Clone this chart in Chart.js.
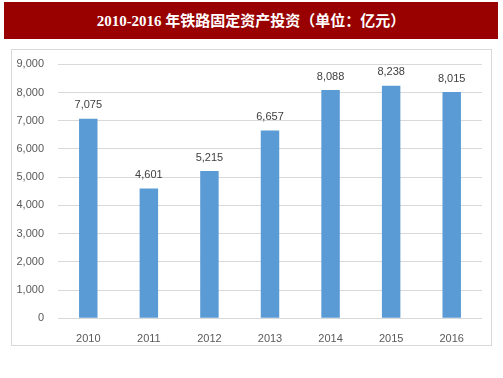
<!DOCTYPE html>
<html>
<head>
<meta charset="utf-8">
<script src="https://cdn.jsdelivr.net/npm/chart.js@4"></script>
<style>
  html, body { margin: 0; padding: 0; background: #ffffff; }
  body { width: 503px; height: 378px; position: relative; overflow: hidden; }
  #title {
    position: absolute; left: 4px; top: 2px; width: 494px; height: 37px;
    background: #990000; color: #ffffff;
    font-family: "Liberation Serif", "Noto Sans CJK SC", serif; font-weight: bold; font-size: 15px;
    line-height: 39px; text-align: center; white-space: nowrap;
  }
  #box {
    position: absolute; left: 11px; top: 49px; width: 481px; height: 297px;
    border: 1px solid #d9d9d9; box-sizing: border-box;
  }
  #c { display: block; }
</style>
</head>
<body>
<div id="title">2010-2016 年铁路固定资产投资（单位：亿元）</div>
<div id="box"><canvas id="c" width="479" height="295"></canvas></div>
<script>
const categories = ['2010', '2011', '2012', '2013', '2014', '2015', '2016'];
const investment = [7075, 4601, 5215, 6657, 8088, 8238, 8015];
const yMin = 0;
const yMax = 9000;
const yStep = 1000;

const fmt = v => v.toLocaleString('en-US');

const valueLabels = {
  id: 'valueLabels',
  afterDatasetsDraw(chart) {
    const ctx = chart.ctx;
    ctx.save();
    ctx.font = '11px "Liberation Sans", Arial, sans-serif';
    ctx.fillStyle = '#404040';
    ctx.textAlign = 'center';
    ctx.textBaseline = 'middle';
    const meta = chart.getDatasetMeta(0);
    meta.data.forEach((bar, i) => {
      ctx.fillText(fmt(chart.data.datasets[0].data[i]), bar.x, bar.y - 13.5);
    });
    ctx.restore();
  }
};

new Chart(document.getElementById('c'), {
  type: 'bar',
  data: {
    labels: categories,
    datasets: [{
      data: investment,
      backgroundColor: '#5B9BD5',
      borderWidth: 0,
      categoryPercentage: 1,
      barPercentage: 0.305
    }]
  },
  options: {
    responsive: false,
    animation: false,
    devicePixelRatio: 1,
    layout: { padding: { top: 14.3, right: 9, left: 0, bottom: 0 } },
    plugins: { legend: { display: false }, tooltip: { enabled: false }, title: { display: false } },
    scales: {
      x: {
        grid: { display: false, drawTicks: false },
        border: { display: false },
        ticks: { color: '#595959', font: { family: '"Liberation Sans", Arial, sans-serif', size: 11 }, padding: 14 },
        afterFit(s) { s.height = 26.7; s.paddingLeft = 0; s.paddingRight = 0; }
      },
      y: {
        min: yMin, max: yMax,
        grid: { color: '#d9d9d9', lineWidth: 1, drawTicks: false },
        border: { display: false },
        ticks: {
          stepSize: yStep,
          color: '#595959',
          font: { family: '"Liberation Sans", Arial, sans-serif', size: 11 },
          padding: 14,
          callback: v => fmt(v)
        },
        afterFit(s) { s.width = 46; s.paddingTop = 0; s.paddingBottom = 0; }
      }
    }
  },
  plugins: [valueLabels]
});
</script>
</body>
</html>
